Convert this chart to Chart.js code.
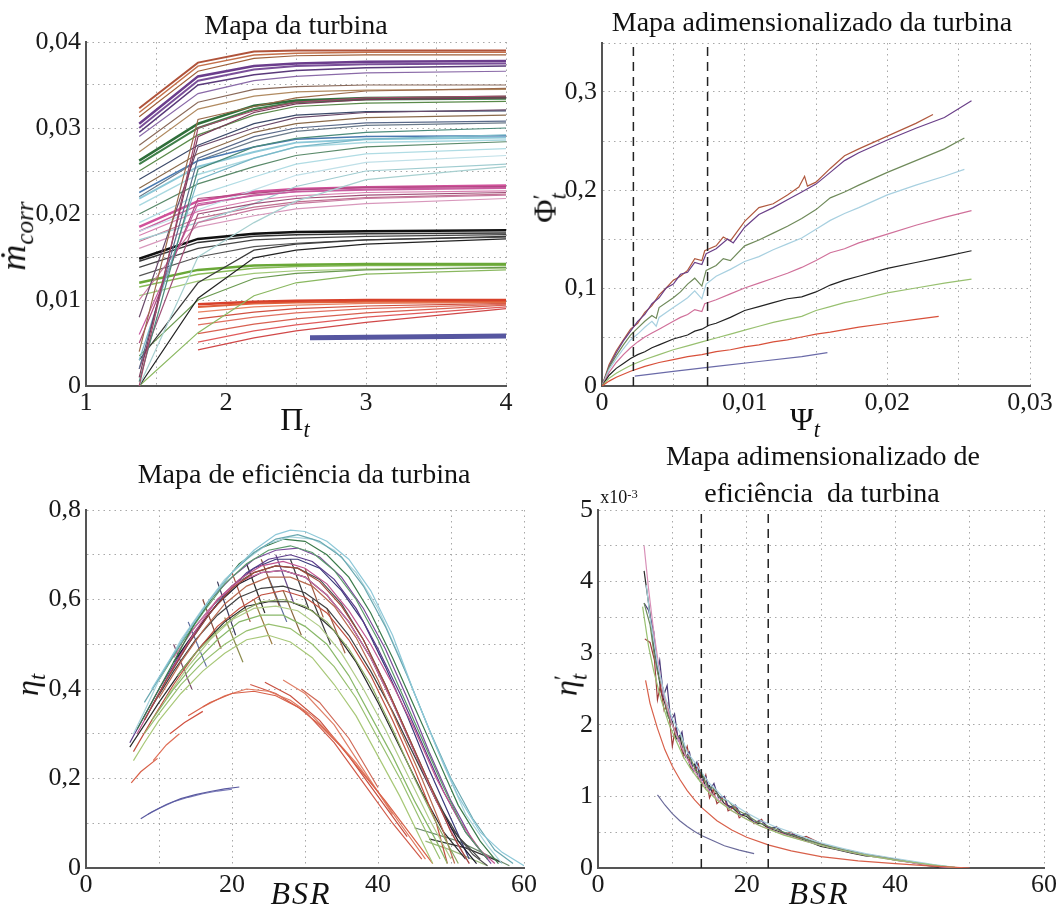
<!DOCTYPE html>
<html lang="pt">
<head>
<meta charset="utf-8">
<title>Mapas da turbina</title>
<script src="https://cdn.jsdelivr.net/npm/chart.js@4/dist/chart.umd.min.js"></script>
<style>
  html, body { margin: 0; padding: 0; background: #fff; }
  #figura { position: relative; width: 1059px; height: 919px; overflow: hidden; background: #fff; }
  canvas { position: absolute; }
  .txt { position: absolute; transform: translate(-50%, -50%); white-space: pre; line-height: 1;
         font-family: 'Liberation Serif', 'Times New Roman', serif; color: #111; }
  .titulo { font-size: 28px; }
  .eixo { font-size: 32px; }
  .vert { transform: translate(-50%, -50%) rotate(-90deg); }
  .txt sub { font-size: 0.7em; vertical-align: -0.3em; }
  .txt sup { font-size: 0.7em; vertical-align: 0.45em; }
  .pilha { display: inline-block; font-size: 0.7em; line-height: 0.75; vertical-align: -0.45em; text-align: left; }
</style>
</head>
<body>
<div id="figura">
  <canvas id="mapaTurbina" width="530" height="440" style="left:0;top:0"></canvas>
  <canvas id="mapaAdim" width="529" height="440" style="left:530px;top:0"></canvas>
  <canvas id="mapaEfic" width="545" height="469" style="left:0;top:450px"></canvas>
  <canvas id="mapaEficAdim" width="514" height="469" style="left:545px;top:450px"></canvas>

  <div class="txt titulo" style="left:296px;top:25px">Mapa da turbina</div>
  <div class="txt titulo" style="left:812px;top:22px">Mapa adimensionalizado da turbina</div>
  <div class="txt titulo" style="left:304px;top:474px">Mapa de eficiência da turbina</div>
  <div class="txt titulo" style="left:823px;top:456px">Mapa adimensionalizado de</div>
  <div class="txt titulo" style="left:822px;top:493px">eficiência  da turbina</div>
  <div class="txt" style="left:619px;top:497px;font-size:18px">x10<sup>-3</sup></div>

  <div class="txt eixo vert" style="left:16px;top:236px;font-size:36px"><i>ṁ</i><sub><i>corr</i></sub></div>
  <div class="txt eixo" style="left:295px;top:422px">Π<sub><i>t</i></sub></div>
  <div class="txt eixo vert" style="left:548px;top:208px">Φ<span class="pilha">′<br><i>t</i></span></div>
  <div class="txt eixo" style="left:805px;top:422px">Ψ<sub><i>t</i></sub></div>
  <div class="txt eixo vert" style="left:30px;top:685px"><i>η</i><sub><i>t</i></sub></div>
  <div class="txt eixo" style="left:301px;top:893px;letter-spacing:2px"><i>BSR</i></div>
  <div class="txt eixo vert" style="left:569px;top:685px"><i>η</i><span class="pilha">′<br><i>t</i></span></div>
  <div class="txt eixo" style="left:819px;top:893px;letter-spacing:2px"><i>BSR</i></div>
</div>

<script>
// =====================================================
// DADOS - MAPA DA TURBINA (vazão corrigida x Π_t)
// =====================================================

const piPontos = [1.38, 1.8, 2.2, 2.5, 3.0, 4.0];

const vazaoMarrom = [
    [0.0323, 0.0376, 0.0389, 0.0390, 0.0390, 0.0390],
    [0.0318, 0.0372, 0.0385, 0.0387, 0.0388, 0.0388],
    [0.0313, 0.0366, 0.0381, 0.0384, 0.0385, 0.0385]
];
const vazaoRoxo = [
    [0.0305, 0.0360, 0.0372, 0.0375, 0.0377, 0.0378],
    [0.0300, 0.0355, 0.0368, 0.0372, 0.0374, 0.0375],
    [0.0295, 0.0350, 0.0362, 0.0367, 0.0370, 0.0372],
    [0.0290, 0.0340, 0.0355, 0.0360, 0.0364, 0.0366]
];
const vazaoCinza = [
    [0.0280, 0.0330, 0.0345, 0.0348, 0.0350, 0.0350],
    [0.0272, 0.0322, 0.0337, 0.0342, 0.0344, 0.0345]
];
const vazaoVerdeEsc = [
    [0.0262, 0.0305, 0.0326, 0.0332, 0.0335, 0.0336],
    [0.0258, 0.0300, 0.0322, 0.0330, 0.0333, 0.0334],
    [0.0250, 0.0292, 0.0315, 0.0325, 0.0329, 0.0331]
];
const vazaoAzulEsc = [
    [0.0240, 0.0280, 0.0305, 0.0315, 0.0319, 0.0320],
    [0.0230, 0.0270, 0.0295, 0.0305, 0.0312, 0.0315],
    [0.0220, 0.0262, 0.0285, 0.0296, 0.0303, 0.0306]
];
const vazaoAzulClaro = [
    [0.0225, 0.0262, 0.0278, 0.0287, 0.0290, 0.0291],
    [0.0218, 0.0255, 0.0272, 0.0283, 0.0287, 0.0289],
    [0.0210, 0.0246, 0.0265, 0.0278, 0.0283, 0.0286],
    [0.0200, 0.0235, 0.0255, 0.0268, 0.0278, 0.0284],
    [0.0190, 0.0222, 0.0243, 0.0258, 0.0270, 0.0276],
    [0.0180, 0.0205, 0.0228, 0.0245, 0.0260, 0.0268],
    [0.0170, 0.0190, 0.0212, 0.0232, 0.0250, 0.0258]
];
const vazaoRosa = [
    [0.0185, 0.0215, 0.0226, 0.0229, 0.0231, 0.0233],
    [0.0180, 0.0210, 0.0222, 0.0226, 0.0228, 0.0230],
    [0.0175, 0.0203, 0.0216, 0.0221, 0.0225, 0.0227],
    [0.0168, 0.0195, 0.0208, 0.0214, 0.0219, 0.0223],
    [0.0160, 0.0185, 0.0198, 0.0206, 0.0212, 0.0218]
];
const vazaoPreto = [
    [0.0148, 0.0171, 0.0177, 0.0179, 0.0180, 0.0181],
    [0.0145, 0.0167, 0.0174, 0.0176, 0.0177, 0.0178],
    [0.0138, 0.0160, 0.0170, 0.0172, 0.0174, 0.0176],
    [0.0128, 0.0150, 0.0162, 0.0166, 0.0170, 0.0173]
];
const vazaoVerde = [
    [0.0120, 0.0135, 0.0140, 0.0141, 0.0142, 0.0142],
    [0.0115, 0.0130, 0.0137, 0.0139, 0.0140, 0.0140],
    [0.0105, 0.0122, 0.0131, 0.0134, 0.0136, 0.0137]
];
const vazaoVermelho = [
    [null, 0.0095, 0.0098, 0.0099, 0.0100, 0.0100],
    [null, 0.0092, 0.0096, 0.0097, 0.0098, 0.0098],
    [null, 0.0086, 0.0092, 0.0094, 0.0096, 0.0097],
    [null, 0.0078, 0.0086, 0.0090, 0.0093, 0.0096],
    [null, 0.0071, 0.0080, 0.0085, 0.0090, 0.0095],
    [null, 0.0061, 0.0072, 0.0078, 0.0085, 0.0094],
    [null, 0.0051, 0.0064, 0.0071, 0.0080, 0.0092],
    [null, 0.0042, 0.0056, 0.0064, 0.0074, 0.0090]
];
// linhas que partem de vazão baixa em Π = 1,38
const vazaoIngreme = [
    [0.0000, 0.0300, 0.0320, 0.0330, 0.0335, 0.0337],
    [0.0010, 0.0290, 0.0318, 0.0328, 0.0333, 0.0335],
    [0.0040, 0.0310, 0.0325, 0.0335, 0.0343, 0.0346],
    [0.0080, 0.0278, 0.0300, 0.0312, 0.0318, 0.0321],
    [0.0020, 0.0265, 0.0290, 0.0300, 0.0306, 0.0308],
    [0.0005, 0.0252, 0.0278, 0.0288, 0.0295, 0.0300],
    [0.0030, 0.0240, 0.0265, 0.0278, 0.0287, 0.0292],
    [0.0000, 0.0150, 0.0190, 0.0215, 0.0240, 0.0255],
    [0.0050, 0.0218, 0.0224, 0.0228, 0.0231, 0.0232],
    [0.0060, 0.0212, 0.0221, 0.0226, 0.0229, 0.0231],
    [0.0020, 0.0200, 0.0212, 0.0218, 0.0222, 0.0225],
    [0.0100, 0.0190, 0.0205, 0.0212, 0.0218, 0.0222],
    [0.0000, 0.0102, 0.0149, 0.0158, 0.0165, 0.0171],
    [0.0030, 0.0120, 0.0158, 0.0165, 0.0170, 0.0174],
    [0.0000, 0.0062, 0.0105, 0.0120, 0.0130, 0.0135],
    [0.0035, 0.0100, 0.0125, 0.0131, 0.0135, 0.0138]
];
const piAzul = [2.6, 4.0];
const vazaoAzul = [0.0056, 0.0058];

// =====================================================
// DADOS - MAPA ADIMENSIONALIZADO (Φ'_t x Ψ_t)
// =====================================================

const adimMarrom = [[0,0],[0.0005,0.022],[0.001,0.036],[0.0015,0.047],[0.002,0.058],[0.0025,0.064],[0.003,0.075],[0.0035,0.082],[0.004,0.093],[0.0045,0.100],[0.005,0.108],[0.0055,0.112],[0.006,0.118],[0.0065,0.130],[0.007,0.128],[0.0072,0.138],[0.008,0.143],[0.0085,0.152],[0.009,0.148],[0.0095,0.158],[0.010,0.168],[0.011,0.182],[0.012,0.186],[0.013,0.195],[0.0138,0.203],[0.0142,0.214],[0.0144,0.204],[0.015,0.208],[0.016,0.222],[0.017,0.235],[0.018,0.242],[0.020,0.255],[0.022,0.268],[0.0232,0.277]];
const adimRoxo = [[0,0],[0.0005,0.020],[0.001,0.034],[0.0015,0.046],[0.002,0.056],[0.0025,0.066],[0.003,0.073],[0.0035,0.084],[0.004,0.090],[0.0045,0.100],[0.005,0.104],[0.0055,0.114],[0.006,0.116],[0.0065,0.126],[0.007,0.124],[0.0073,0.135],[0.008,0.140],[0.0088,0.150],[0.0092,0.146],[0.010,0.162],[0.011,0.175],[0.012,0.182],[0.013,0.190],[0.014,0.198],[0.015,0.206],[0.016,0.218],[0.017,0.230],[0.018,0.238],[0.020,0.251],[0.022,0.263],[0.024,0.274],[0.0259,0.291]];
const adimOliva = [[0,0],[0.0005,0.019],[0.001,0.031],[0.0015,0.042],[0.002,0.052],[0.0025,0.059],[0.003,0.066],[0.0035,0.072],[0.0038,0.069],[0.004,0.080],[0.005,0.090],[0.0055,0.096],[0.006,0.104],[0.0065,0.110],[0.007,0.102],[0.0073,0.118],[0.008,0.123],[0.0085,0.130],[0.009,0.128],[0.010,0.143],[0.011,0.149],[0.012,0.156],[0.013,0.163],[0.014,0.171],[0.015,0.180],[0.016,0.192],[0.017,0.198],[0.018,0.205],[0.020,0.218],[0.022,0.230],[0.024,0.242],[0.0254,0.253]];
const adimAzulClaro = [[0,0],[0.0005,0.017],[0.001,0.028],[0.0015,0.038],[0.002,0.047],[0.0025,0.053],[0.003,0.060],[0.0035,0.066],[0.0038,0.061],[0.004,0.070],[0.005,0.080],[0.0055,0.085],[0.006,0.090],[0.0065,0.097],[0.007,0.089],[0.0073,0.104],[0.008,0.112],[0.009,0.119],[0.010,0.127],[0.011,0.132],[0.012,0.139],[0.013,0.145],[0.014,0.151],[0.015,0.160],[0.016,0.169],[0.017,0.176],[0.018,0.182],[0.020,0.195],[0.022,0.205],[0.024,0.214],[0.0254,0.221]];
const adimRosa = [[0,0],[0.0005,0.014],[0.001,0.024],[0.0015,0.032],[0.002,0.039],[0.0025,0.045],[0.003,0.050],[0.0035,0.054],[0.004,0.058],[0.0045,0.062],[0.005,0.066],[0.0055,0.070],[0.006,0.073],[0.0065,0.078],[0.007,0.076],[0.0072,0.084],[0.008,0.088],[0.009,0.094],[0.010,0.100],[0.011,0.105],[0.012,0.110],[0.013,0.115],[0.014,0.121],[0.015,0.128],[0.016,0.136],[0.017,0.140],[0.018,0.146],[0.020,0.155],[0.022,0.164],[0.024,0.172],[0.0259,0.179]];
const adimPreto = [[0,0],[0.0005,0.011],[0.001,0.018],[0.0015,0.023],[0.002,0.028],[0.0025,0.032],[0.003,0.035],[0.0035,0.039],[0.004,0.042],[0.005,0.048],[0.006,0.052],[0.0065,0.056],[0.007,0.058],[0.0075,0.062],[0.008,0.064],[0.009,0.070],[0.010,0.077],[0.011,0.081],[0.012,0.085],[0.013,0.089],[0.014,0.091],[0.015,0.096],[0.016,0.103],[0.017,0.108],[0.018,0.112],[0.020,0.120],[0.022,0.126],[0.024,0.132],[0.0259,0.138]];
const adimVerde = [[0,0],[0.0005,0.008],[0.001,0.013],[0.0015,0.017],[0.002,0.021],[0.003,0.027],[0.004,0.032],[0.005,0.037],[0.006,0.041],[0.007,0.045],[0.008,0.049],[0.009,0.053],[0.010,0.057],[0.011,0.061],[0.012,0.065],[0.013,0.068],[0.014,0.071],[0.015,0.077],[0.016,0.081],[0.017,0.085],[0.018,0.088],[0.020,0.095],[0.022,0.100],[0.024,0.105],[0.0259,0.109]];
const adimVermelho = [[0,0],[0.0005,0.005],[0.001,0.009],[0.002,0.015],[0.003,0.020],[0.004,0.024],[0.005,0.027],[0.006,0.030],[0.007,0.032],[0.008,0.035],[0.009,0.037],[0.010,0.040],[0.011,0.042],[0.012,0.045],[0.013,0.047],[0.014,0.050],[0.015,0.053],[0.016,0.055],[0.018,0.060],[0.020,0.064],[0.022,0.068],[0.0236,0.071]];
const adimAzul = [[0.0023,0.010],[0.005,0.015],[0.008,0.020],[0.011,0.025],[0.014,0.030],[0.0158,0.034]];
const psiTracejado = [0.0022, 0.0074];

// =====================================================
// DADOS - MAPA DE EFICIÊNCIA (η_t x BSR)
// =====================================================

const efAzulClaro = [
    [[9,0.40],[12,0.48],[14,0.53],[17,0.60],[20,0.66],[23,0.71],[26,0.745],[28,0.755],[30,0.752],[33,0.73],[36,0.69],[39,0.62],[42,0.52],[45,0.39],[48,0.27],[51,0.16],[54,0.08],[57,0.035],[60,0.005]],
    [[8,0.37],[11,0.45],[14,0.53],[17,0.60],[20,0.66],[23,0.705],[26,0.735],[29,0.745],[32,0.73],[35,0.695],[38,0.63],[41,0.54],[44,0.43],[47,0.31],[50,0.20],[53,0.11],[56,0.04],[58.5,0.01]],
    [[6.5,0.30],[8,0.35],[10,0.42],[13,0.51],[16,0.58],[19,0.645],[22,0.69],[25,0.725],[28,0.74],[31,0.735],[34,0.71],[37,0.66],[40,0.58],[43,0.47],[46,0.35],[49,0.23],[52,0.12],[55,0.05],[57,0.01]]
];
const efVerdeEsc = [
    [[7,0.31],[9,0.37],[12,0.46],[15,0.55],[18,0.62],[21,0.68],[24,0.715],[27,0.735],[30,0.73],[33,0.70],[36,0.65],[39,0.57],[42,0.47],[45,0.36],[48,0.25],[51,0.14],[54,0.06],[56.5,0.01]],
    [[10,0.42],[13,0.50],[16,0.57],[19,0.635],[22,0.68],[25,0.71],[28,0.72],[31,0.705],[34,0.665],[37,0.60],[40,0.51],[43,0.40],[46,0.29],[49,0.18],[52,0.08],[55,0.02]]
];
const efRoxo = [
    [[6,0.28],[8,0.34],[10,0.40],[13,0.48],[16,0.55],[19,0.61],[22,0.66],[25,0.69],[28,0.70],[31,0.685],[34,0.645],[37,0.58],[40,0.49],[43,0.39],[46,0.28],[49,0.17],[52,0.08],[55,0.02]],
    [[11,0.45],[14,0.53],[17,0.60],[20,0.65],[23,0.69],[26,0.71],[29,0.715],[32,0.695],[35,0.65],[38,0.58],[41,0.49],[44,0.38],[47,0.26],[50,0.15],[53,0.06],[55.5,0.01]],
    [[8,0.33],[11,0.42],[14,0.50],[17,0.57],[20,0.63],[23,0.67],[26,0.69],[29,0.69],[32,0.67],[35,0.62],[38,0.55],[41,0.45],[44,0.34],[47,0.22],[50,0.11],[52.5,0.02]]
];
const efRosa = [
    [[7,0.30],[9,0.36],[12,0.45],[15,0.53],[18,0.60],[21,0.645],[24,0.675],[27,0.685],[30,0.67],[33,0.635],[36,0.575],[39,0.50],[42,0.41],[45,0.31],[48,0.20],[51,0.11],[54,0.04],[56,0.01]],
    [[12,0.47],[15,0.54],[18,0.60],[21,0.64],[24,0.66],[27,0.665],[30,0.65],[33,0.61],[36,0.55],[39,0.47],[42,0.37],[45,0.26],[48,0.15],[51,0.05],[52.5,0.01]]
];
const efMarrom = [
    [[8,0.33],[11,0.42],[14,0.50],[17,0.57],[20,0.625],[23,0.66],[26,0.675],[29,0.67],[32,0.64],[35,0.585],[38,0.51],[41,0.41],[44,0.30],[47,0.19],[50,0.08],[52.5,0.01]],
    [[10,0.38],[13,0.46],[16,0.53],[19,0.59],[22,0.63],[25,0.65],[28,0.65],[31,0.63],[34,0.585],[37,0.515],[40,0.42],[43,0.31],[46,0.20],[49,0.08],[50.5,0.01]],
    [[6.5,0.26],[9,0.33],[12,0.41],[15,0.48],[18,0.54],[21,0.58],[24,0.61],[27,0.62],[30,0.605],[33,0.57],[36,0.51],[39,0.43],[42,0.33],[45,0.22],[48,0.10],[49.5,0.01]]
];
const efPreto = [
    [[6,0.27],[8,0.32],[10,0.37],[13,0.44],[16,0.50],[19,0.55],[22,0.585],[25,0.595],[28,0.595],[31,0.575],[34,0.53],[37,0.46],[40,0.37],[43,0.27],[46,0.17],[49,0.08],[52,0.02]],
    [[9,0.36],[12,0.44],[15,0.51],[18,0.565],[21,0.605],[24,0.625],[27,0.63],[30,0.615],[33,0.58],[36,0.52],[39,0.44],[42,0.35],[45,0.25],[48,0.15],[51,0.07],[54,0.02]],
    [[12,0.46],[15,0.53],[18,0.59],[21,0.635],[24,0.66],[27,0.665],[30,0.65],[33,0.61],[36,0.55],[39,0.47],[42,0.37],[45,0.26],[48,0.15],[51,0.06],[53.5,0.01]],
    [[14,0.52],[17,0.58],[20,0.63],[23,0.66],[26,0.675],[29,0.67],[32,0.645],[35,0.59],[38,0.51],[41,0.41],[44,0.30],[47,0.19],[50,0.09],[53,0.03],[55,0.005]]
];
const efVerde = [
    [[6.5,0.24],[8,0.28],[10,0.33],[13,0.39],[16,0.44],[19,0.48],[22,0.51],[25,0.52],[28,0.505],[31,0.47],[34,0.41],[37,0.34],[40,0.25],[43,0.16],[46,0.06],[47.5,0.01]],
    [[8,0.30],[10,0.345],[13,0.41],[16,0.46],[19,0.50],[22,0.53],[25,0.545],[28,0.535],[31,0.50],[34,0.45],[37,0.38],[40,0.29],[43,0.20],[46,0.10],[48.5,0.02]],
    [[9,0.33],[12,0.40],[15,0.46],[18,0.51],[21,0.55],[24,0.565],[27,0.565],[30,0.54],[33,0.50],[36,0.43],[39,0.34],[42,0.25],[45,0.15],[48,0.06],[49.5,0.01]],
    [[11,0.38],[14,0.45],[17,0.51],[20,0.555],[23,0.58],[26,0.585],[29,0.575],[32,0.54],[35,0.48],[38,0.40],[41,0.31],[44,0.21],[47,0.11],[50,0.02]],
    [[12.5,0.43],[15,0.48],[18,0.53],[21,0.57],[24,0.595],[27,0.60],[30,0.585],[33,0.55],[36,0.49],[39,0.41],[42,0.31],[45,0.20],[48,0.10],[51,0.01]]
];
const efVermelho = [
    [[6.2,0.19],[7.5,0.215],[9.8,0.245]],
    [[9.2,0.24],[11,0.275],[12.8,0.30]],
    [[11.5,0.30],[13.5,0.325],[16,0.35]],
    [[14,0.34],[17,0.37],[20,0.39],[23,0.395],[26,0.385],[29,0.36],[32,0.32],[35,0.27],[38,0.21],[41,0.15],[44,0.085],[47.5,0.01]],
    [[16,0.36],[19,0.385],[22,0.40],[25,0.395],[28,0.375],[31,0.34],[34,0.29],[37,0.235],[40,0.17],[43,0.10],[46.5,0.02]],
    [[22.5,0.41],[26,0.39],[30,0.35],[34,0.28],[38,0.19],[42,0.10],[46,0.02]],
    [[24.5,0.415],[28,0.385],[32,0.33],[36,0.25],[40,0.16],[44,0.07]],
    [[27,0.42],[30,0.39],[34,0.32],[38,0.22],[42,0.12]],
    [[29.5,0.40],[32,0.37],[36,0.29],[40,0.18]]
];
const efAzul = [
    [[7.5,0.11],[9,0.125],[11,0.142],[13,0.155],[15,0.164],[17,0.171],[19,0.177],[21,0.181]],
    [[8.5,0.12],[10,0.133],[12,0.148],[14,0.158],[16,0.166],[18,0.172],[20,0.176]]
];
// trechos curtos que cruzam as curvas e caudas perto de η = 0
const efTrechos = [
    [[16,0.60],[18.5,0.49]], [[18,0.64],[20.5,0.52]], [[20,0.66],[22.5,0.55]], [[22,0.68],[24.5,0.57]],
    [[24,0.69],[26.5,0.585]], [[26,0.70],[28.5,0.59]], [[28,0.69],[30.5,0.58]], [[30,0.67],[32.5,0.56]],
    [[19,0.56],[21.5,0.46]], [[23,0.60],[25.5,0.50]], [[27,0.62],[29.5,0.52]], [[31,0.60],[33.5,0.50]],
    [[14,0.55],[16.5,0.45]], [[25,0.65],[27.5,0.55]], [[33,0.58],[35.5,0.48]], [[12,0.50],[14.5,0.40]],
    [[47,0.065],[52,0.045],[57,0.012]], [[46.5,0.06],[50,0.04],[55,0.005]], [[45,0.09],[51,0.06],[58,0.005]]
];

// =====================================================
// DADOS - MAPA ADIMENSIONALIZADO DE EFICIÊNCIA (η'_t x BSR, x10^-3)
// =====================================================

const adimEfRosa = [[6.2,4.50],[6.8,3.90],[7.5,3.30],[8,2.95],[8.5,2.60],[9,2.35],[10,2.00],[11,1.75],[12,1.52],[13,1.35],[14,1.20],[15,1.07],[16,0.97],[18,0.80],[20,0.68],[22,0.58],[25,0.47],[28,0.37],[31,0.29],[34,0.22],[37,0.16],[40,0.11],[43,0.06],[46,0.02],[49,0]];
const adimEfPreto = [[6.2,4.15],[7,3.55],[7.5,3.10],[8,2.80],[8.5,2.45],[9,2.30],[9.5,2.10],[10,2.05],[10.5,1.80],[11,1.85],[11.5,1.60],[12,1.55],[12.5,1.40],[13,1.45],[13.5,1.25],[14,1.30],[14.5,1.12],[15,1.15],[15.5,1.02],[16,1.05],[17,0.90],[18,0.85],[19,0.75],[20,0.72],[21,0.63],[22,0.62],[23,0.55],[24,0.52],[25,0.48],[26,0.45],[28,0.38],[30,0.30],[32,0.26],[34,0.21],[36,0.17],[38,0.15],[40,0.11],[42,0.08],[44,0.04],[46,0.01],[48,0]];
const adimEfRoxo = [[6.2,3.70],[6.8,3.60],[7.5,3.30],[8,2.75],[8.3,2.90],[8.8,2.40],[9.3,2.55],[9.8,2.05],[10.3,2.15],[10.8,1.78],[11.3,1.90],[11.8,1.55],[12.3,1.62],[12.8,1.35],[13.3,1.48],[13.8,1.20],[14.5,1.28],[15,1.08],[15.6,1.18],[16.2,0.98],[17,1.00],[17.6,0.84],[18.5,0.88],[19.2,0.74],[20,0.76],[21,0.64],[22,0.66],[23,0.56],[24,0.57],[25,0.49],[26.5,0.46],[28,0.40],[30,0.33],[32,0.27],[34,0.22],[36,0.19],[38,0.15],[40,0.12],[42,0.08],[44,0.05],[46,0.02],[48,0]];
const adimEfMarrom = [[6.3,3.20],[7,3.15],[7.6,2.90],[8,2.35],[8.4,2.55],[8.9,2.20],[9.4,2.30],[10,1.70],[10.4,1.95],[11,1.75],[11.5,1.55],[12,1.70],[12.5,1.40],[13,1.35],[13.5,1.45],[14,1.15],[14.5,1.30],[15,0.98],[15.5,1.10],[16,0.90],[17,1.00],[17.5,0.80],[18.5,0.86],[19,0.70],[20,0.78],[21,0.62],[22,0.68],[23,0.53],[24,0.58],[25,0.47],[26,0.50],[27,0.41],[28,0.44],[30,0.34],[32,0.28],[34,0.24],[36,0.19],[38,0.16],[40,0.12],[42,0.09],[44,0.05],[46,0.02],[48,0]];
const adimEfVerde = [[6,3.65],[6.8,3.10],[7.5,2.75],[8.5,2.35],[9.5,2.02],[10.5,1.78],[11.5,1.55],[12.5,1.38],[13.5,1.24],[14.5,1.10],[16,0.95],[18,0.80],[20,0.68],[22,0.58],[25,0.46],[28,0.37],[31,0.29],[34,0.22],[37,0.16],[40,0.11],[43,0.07],[46,0.03],[49,0]];
const adimEfOliva = [[6.2,3.70],[7,3.40],[7.6,2.95],[8.2,2.65],[8.8,2.50],[9.3,2.15],[10,2.00],[10.6,1.82],[11.2,1.85],[11.8,1.58],[12.5,1.52],[13.2,1.35],[14,1.32],[14.8,1.12],[15.5,1.12],[16.5,0.96],[17.5,0.94],[18.5,0.82],[20,0.74],[21.5,0.64],[23,0.58],[24.5,0.52],[26,0.46],[28,0.40],[30,0.33],[33,0.26],[36,0.19],[39,0.14],[42,0.09],[45,0.04],[48,0.01]];
const adimEfAzulClaro = [[6.5,3.95],[7,3.50],[8,2.85],[9,2.40],[10,2.08],[11,1.90],[12,1.62],[13,1.48],[14,1.33],[15,1.18],[16,1.08],[17,0.97],[18,0.90],[20,0.77],[22,0.66],[24,0.57],[26,0.50],[28,0.42],[30,0.35],[33,0.27],[36,0.20],[39,0.15],[42,0.10],[45,0.05],[48,0.01]];
const adimEfVermelho = [[6.4,2.62],[7,2.30],[8,1.95],[9,1.65],[10,1.42],[11,1.24],[12,1.08],[13,0.95],[14,0.84],[16,0.66],[18,0.53],[20,0.43],[23,0.32],[26,0.24],[30,0.16],[35,0.10],[40,0.06],[45,0.025],[50,0.0]];
const adimEfAzul = [[8,1.02],[9,0.88],[10,0.76],[11,0.66],[12,0.58],[13,0.51],[14,0.45],[15.5,0.38],[17,0.31],[19,0.25],[21,0.20]];
const bsrTracejado = [13.9, 22.9];

// =====================================================
// CONFIGURAÇÃO COMUM
// =====================================================

const SERIF = "'Liberation Serif', 'Times New Roman', serif";

function pares(pts) {
    return pts.map(p => ({ x: p[0], y: p[1] }));
}

function linha(pts, cor, largura) {
    return {
        data: pares(pts),
        borderColor: cor,
        borderWidth: largura || 1.2,
        pointRadius: 0,
        fill: false,
        tension: 0
    };
}

function grupo(curvas, cores, larguras) {
    return curvas.map((c, i) => linha(c, cores[i % cores.length], larguras ? larguras[i] : 1.2));
}

function grupoVazao(linhas, cores, larguras) {
    return linhas.map((vals, i) => linha(
        piPontos.map((x, k) => [x, vals[k]]).filter(p => p[1] !== null),
        cores[i % cores.length],
        larguras ? larguras[i] : 1.2
    ));
}

function tracejadas(xs, ymax) {
    return xs.map(x => ({
        data: [{ x: x, y: 0 }, { x: x, y: ymax }],
        borderColor: '#222',
        borderWidth: 1.5,
        borderDash: [9, 6],
        pointRadius: 0,
        fill: false
    }));
}

const ehMultiplo = m => v => Math.abs(v / m - Math.round(v / m)) < 1e-6;
const formato = d => v => Math.abs(v) < 1e-9 ? '0' : v.toFixed(d).replace('.', ',');

function eixo(pos, min, max, passo, mostra, fmt, tamanho) {
    return {
        type: 'linear',
        position: pos,
        min: min,
        max: max,
        afterFit: s => { if (pos === 'left') s.width = tamanho; else s.height = tamanho; },
        ticks: {
            stepSize: passo,
            autoSkip: false,
            maxRotation: 0,
            padding: pos === 'left' ? 5 : 2,
            color: '#1a1a1a',
            font: { family: SERIF, size: 26 },
            callback: v => mostra(v) ? fmt(v) : ''
        },
        grid: { color: '#a8a8a8', lineWidth: 1, drawTicks: false, borderDash: [1.5, 4] },
        border: { display: true, color: '#555', width: 2, dash: [1.5, 4] }
    };
}

function criaGrafico(id, datasets, escalaX, escalaY, padding) {
    return new Chart(document.getElementById(id), {
        type: 'line',
        data: { datasets: datasets },
        options: {
            responsive: false,
            animation: false,
            devicePixelRatio: 1,
            events: [],
            layout: { autoPadding: false, padding: padding },
            plugins: { legend: { display: false }, tooltip: { enabled: false } },
            scales: { x: escalaX, y: escalaY }
        }
    });
}

// =====================================================
// GRÁFICO 1 - MAPA DA TURBINA
// =====================================================

const dadosMapa = [].concat(
    grupoVazao(vazaoIngreme, ['#a04a6a', '#7a3a5a', '#9a6a4a', '#6a4a6a', '#5a6a8a', '#4a8a7a', '#7ab8c8', '#a8d0d0',
                              '#b04a80', '#c85aa0', '#a05078', '#c87aa0', '#222', '#3a3a3a', '#8ab860', '#6a9a50']),
    grupoVazao(vazaoAzulClaro, ['#4a7ab0', '#8cc8d8', '#a8d8e0', '#5a8a6a', '#b0dce4', '#c0e0e8', '#a0ccd0'], [1.5, 2, 1.5, 1.2, 1.2, 1.2, 1.2]),
    grupoVazao(vazaoCinza, ['#8a6a5a', '#b08a60']),
    grupoVazao(vazaoAzulEsc, ['#3c4a6a', '#8a6a4a', '#6a7a8a']),
    grupoVazao(vazaoVerdeEsc, ['#2f6e3a', '#3f7f48', '#5a8a4a'], [2.5, 2, 1.2]),
    grupoVazao(vazaoRoxo, ['#6b3d8c', '#7a4f99', '#5a3a7a', '#8a6aa8'], [2.5, 2, 1.5, 1.2]),
    grupoVazao(vazaoMarrom, ['#b0533a', '#c4704a', '#a0603a'], [2, 1.5, 1.2]),
    grupoVazao(vazaoRosa, ['#d0509a', '#c8609e', '#d880b0', '#c07090', '#d898bc'], [2.5, 1.5, 1.2, 1.2, 1.2]),
    grupoVazao(vazaoPreto, ['#111', '#333', '#444', '#555'], [2.5, 1.5, 1.2, 1.2]),
    grupoVazao(vazaoVerde, ['#6aa838', '#88bb58', '#a0c878'], [2.5, 1.5, 1.2]),
    grupoVazao(vazaoVermelho, ['#d8402a', '#e0603a', '#e88060', '#d05040', '#e07060', '#d86050', '#e05a5a', '#d04848'], [2.5, 2, 1.2, 1.2, 1.2, 1.2, 1.2, 1.2]),
    [linha(piAzul.map((x, i) => [x, vazaoAzul[i]]), '#5656a0', 5)]
);

criaGrafico('mapaTurbina', dadosMapa,
    eixo('bottom', 1, 4, 0.5, ehMultiplo(1), formato(0), 54),
    eixo('left', 0, 0.04, 0.005, ehMultiplo(0.01), formato(2), 86),
    { left: 0, right: 24, top: 42, bottom: 0 });

// =====================================================
// GRÁFICO 2 - MAPA ADIMENSIONALIZADO
// =====================================================

const dadosAdim = [].concat(
    tracejadas(psiTracejado, 0.35),
    [
        linha(adimAzul, '#6a6aa8'),
        linha(adimVermelho, '#d8503a'),
        linha(adimVerde, '#98c070'),
        linha(adimPreto, '#222'),
        linha(adimRosa, '#d0709a'),
        linha(adimAzulClaro, '#a8d0e0'),
        linha(adimOliva, '#6f8a5a'),
        linha(adimRoxo, '#6a3f88'),
        linha(adimMarrom, '#b0583e')
    ]
);

criaGrafico('mapaAdim', dadosAdim,
    eixo('bottom', 0, 0.03, 0.005, ehMultiplo(0.01), formato(2), 54),
    eixo('left', 0, 0.35, 0.05, ehMultiplo(0.1), formato(1), 72),
    { left: 0, right: 29, top: 43, bottom: 0 });

// =====================================================
// GRÁFICO 3 - MAPA DE EFICIÊNCIA
// =====================================================

const dadosEfic = [].concat(
    grupo(efVerde, ['#a8c878', '#98c070', '#88b868', '#b0cc88', '#8aaa60']),
    grupo(efVermelho, ['#d86048', '#e07058', '#d05040', '#d86048', '#e07a60', '#d05a48', '#c85040', '#e08068', '#d06a58']),
    grupo(efAzul, ['#5a5aa0', '#7a7ab8']),
    grupo(efAzulClaro, ['#8ec8d8', '#6aa8b0', '#a8d4dc']),
    grupo(efVerdeEsc, ['#3a7a4a', '#5a9a6a']),
    grupo(efMarrom, ['#a04a3a', '#b86a50', '#c05040']),
    grupo(efRosa, ['#c05590', '#d070a8']),
    grupo(efPreto, ['#2a2a2a', '#404040', '#1a1a2a', '#505050']),
    grupo(efRoxo, ['#5a3a8a', '#7a4a9a', '#3a3a7a']),
    grupo(efTrechos, ['#8a4a3a', '#3a3a5a', '#a05040', '#2a2a2a', '#8a5a3a', '#6a4a8a', '#3a3a3a', '#a05a40',
                      '#8a8a4a', '#9a7a40', '#8a6a40', '#3a3a3a', '#5a6a9a', '#5a6a9a', '#a05a40', '#7a4a6a',
                      '#333', '#98b878', '#6a8a6a'])
);

criaGrafico('mapaEfic', dadosEfic,
    eixo('bottom', 0, 60, 10, ehMultiplo(20), formato(0), 51),
    eixo('left', 0, 0.8, 0.1, ehMultiplo(0.2), formato(1), 86),
    { left: 0, right: 21, top: 60, bottom: 0 });

// =====================================================
// GRÁFICO 4 - MAPA ADIMENSIONALIZADO DE EFICIÊNCIA
// =====================================================

const dadosEficAdim = [].concat(
    tracejadas(bsrTracejado, 5),
    [
        linha(adimEfAzul, '#6a6a9a'),
        linha(adimEfVermelho, '#d8604a'),
        linha(adimEfVerde, '#98c070'),
        linha(adimEfAzulClaro, '#a8d0dc'),
        linha(adimEfRosa, '#d890b8'),
        linha(adimEfOliva, '#6a8a5a'),
        linha(adimEfRoxo, '#4a3a7a'),
        linha(adimEfMarrom, '#a03a3a'),
        linha(adimEfPreto, '#2a2a2a')
    ]
);

criaGrafico('mapaEficAdim', dadosEficAdim,
    eixo('bottom', 0, 60, 10, ehMultiplo(20), formato(0), 51),
    eixo('left', 0, 5, 0.5, ehMultiplo(1), formato(0), 53),
    { left: 0, right: 11, top: 60, bottom: 0 });
</script>
</body>
</html>
